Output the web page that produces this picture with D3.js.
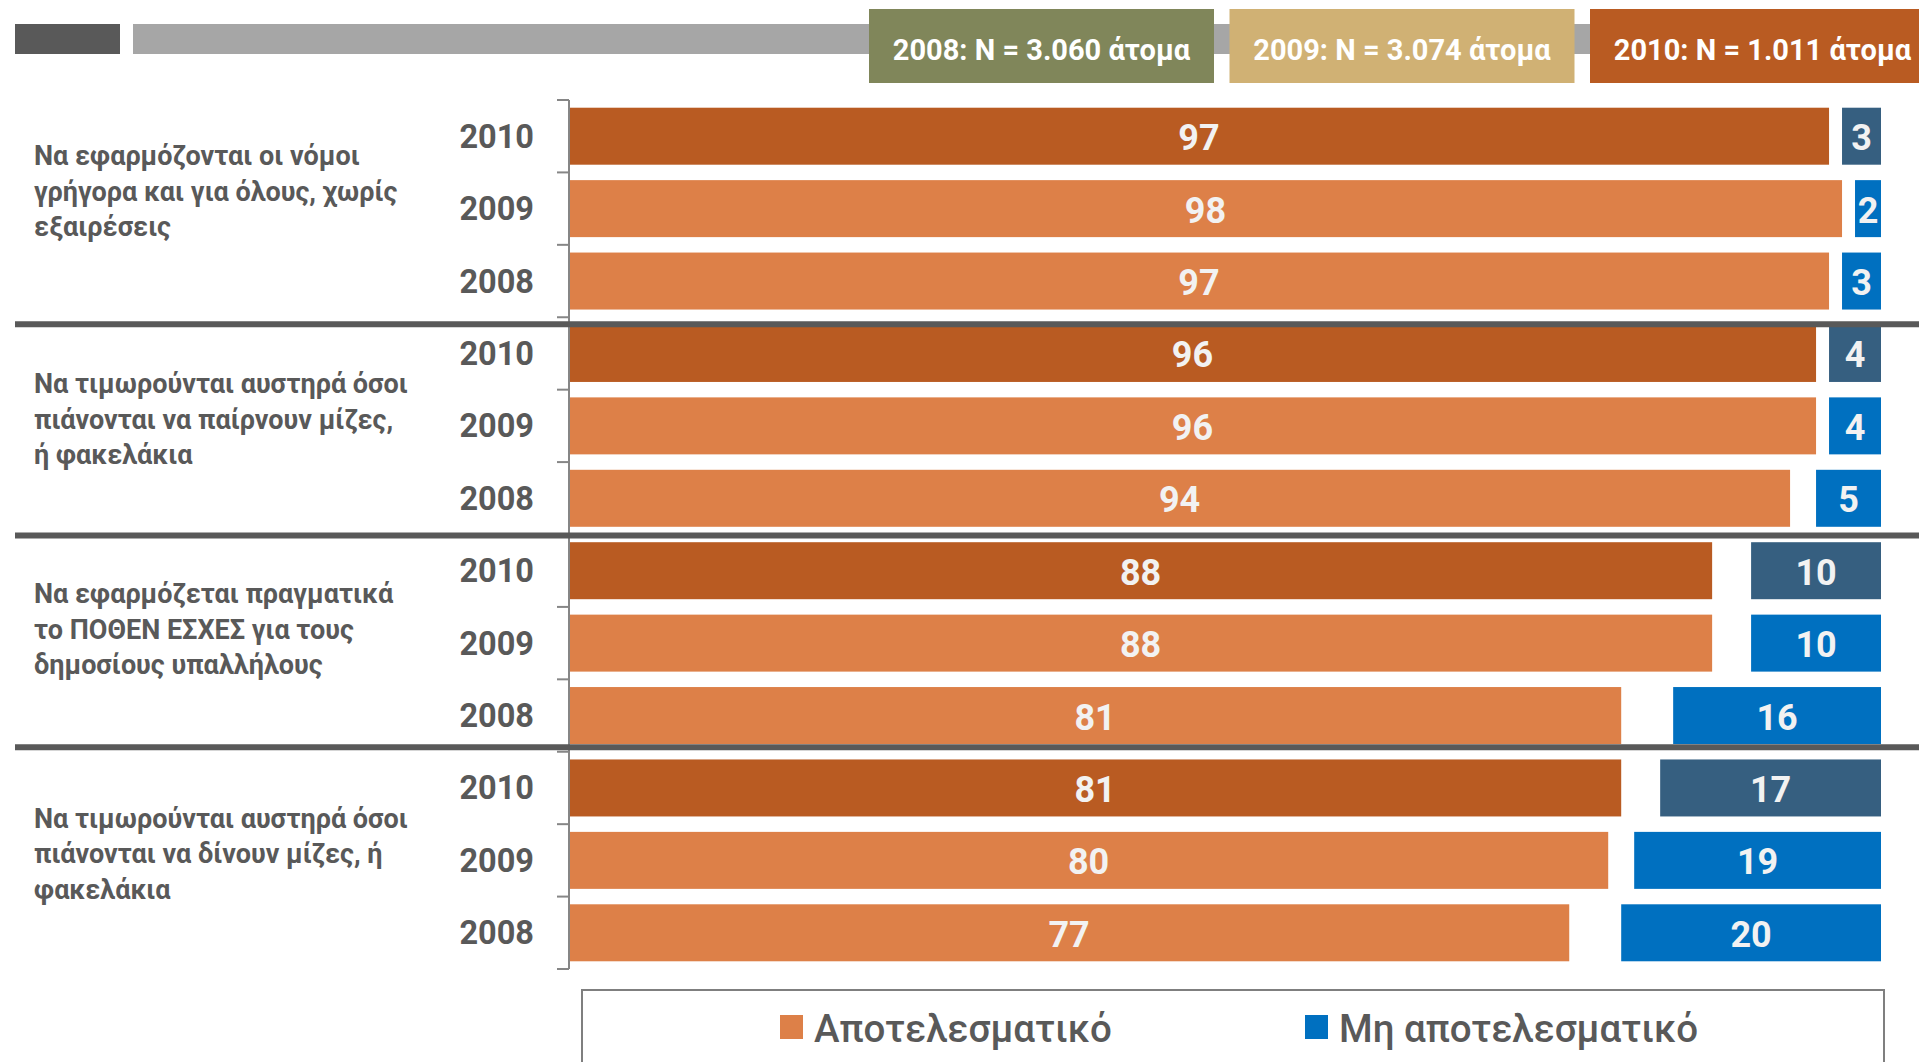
<!DOCTYPE html>
<html>
<head>
<meta charset="utf-8">
<script src="https://cdnjs.cloudflare.com/ajax/libs/d3/7.8.5/d3.min.js"></script>
<style>
  html, body { margin: 0; padding: 0; background: #ffffff; overflow: hidden; }
  svg { display: block; font-family: Roboto, "Noto Sans", "DejaVu Sans", sans-serif; }
</style>
</head>
<body>
<svg id="chart" width="1919" height="1062"></svg>
<script>
// ---------- DATA ----------
const categories = [
  ["Να εφαρμόζονται οι νόμοι", "γρήγορα και για όλους, χωρίς", "εξαιρέσεις"],
  ["Να τιμωρούνται αυστηρά όσοι", "πιάνονται να παίρνουν μίζες,", "ή φακελάκια"],
  ["Να εφαρμόζεται πραγματικά", "το ΠΟΘΕΝ ΕΣΧΕΣ για τους", "δημοσίους υπαλλήλους"],
  ["Να τιμωρούνται αυστηρά όσοι", "πιάνονται να δίνουν μίζες, ή", "φακελάκια"]
];
const years = ["2010", "2009", "2008"];
const effective = [
  [97, 98, 97],
  [96, 96, 94],
  [88, 88, 81],
  [81, 80, 77]
];
const notEffective = [
  [3, 2, 3],
  [4, 4, 5],
  [10, 10, 16],
  [17, 19, 20]
];
const sampleLabels = ["2008: N = 3.060 άτομα", "2009: N = 3.074 άτομα", "2010: N = 1.011 άτομα"];
const legendLabels = ["Αποτελεσματικό", "Μη αποτελεσματικό"];

// ---------- STYLE / LAYOUT ----------
const col = {
  eff2010: "#B95B22", eff: "#DD8048",
  not2010: "#365F80", not: "#0070C0",
  text: "#595959", axis: "#868686", sep: "#595959",
  headerDark: "#595959", headerLight: "#A6A6A6",
  boxes: ["#80865A", "#D0B174", "#B95B22"],
  label: "#F2F2F2"
};
const svg = d3.select("#chart");

const rows = [];
categories.forEach((c, gi) => years.forEach((yr, yi) => rows.push({
  key: gi + "-" + yr, gi, yi, year: yr,
  eff: effective[gi][yi], not: notEffective[gi][yi]
})));

const axisX = 569, rightEnd = 1881;
const plotTop = 100, plotBottom = 969;
const pad = 0.213;
const x = d3.scaleLinear().domain([0, 101]).range([axisX, rightEnd]);
const y = d3.scaleBand().domain(rows.map(d => d.key)).range([plotTop, plotBottom])
  .paddingInner(pad).paddingOuter(pad / 2);
const step = y.step();

// ---------- HEADER ----------
svg.append("rect").attr("x", 15).attr("y", 24).attr("width", 105).attr("height", 30).attr("fill", col.headerDark);
svg.append("rect").attr("x", 133).attr("y", 24).attr("width", 1919 - 133).attr("height", 30).attr("fill", col.headerLight);
const boxX = d3.scaleLinear().domain([0, 1]).range([869, 1229.5]);
const hb = svg.append("g").selectAll("g").data(sampleLabels).join("g")
  .attr("transform", (d, i) => `translate(${boxX(i)},9)`);
hb.append("rect").attr("width", 345).attr("height", 74).attr("fill", (d, i) => col.boxes[i]);
hb.append("text").attr("x", 172.5).attr("y", 41).attr("text-anchor", "middle")
  .attr("dominant-baseline", "central")
  .attr("fill", "#ffffff").attr("font-weight", 700).attr("font-size", 29)
  .text(d => d);

// ---------- AXIS ----------
const axisG = svg.append("g");
axisG.append("line").attr("x1", axisX).attr("x2", axisX).attr("y1", plotTop).attr("y2", plotBottom)
  .attr("stroke", col.axis).attr("stroke-width", 2);
const boundaries = rows.map(d => y(d.key) - step * pad / 2).concat([plotBottom]);
axisG.selectAll("line.tick").data(boundaries).join("line").attr("class", "tick")
  .attr("x1", axisX - 12).attr("x2", axisX).attr("y1", d => d).attr("y2", d => d)
  .attr("stroke", col.axis).attr("stroke-width", 2);

// ---------- BARS ----------
const bars = svg.append("g");
bars.selectAll("rect.eff").data(rows).join("rect").attr("class", "eff")
  .attr("x", x(0) + 1).attr("y", d => y(d.key))
  .attr("width", d => x(d.eff) - x(0) - 1).attr("height", y.bandwidth())
  .attr("fill", d => d.year === "2010" ? col.eff2010 : col.eff);
bars.selectAll("rect.not").data(rows).join("rect").attr("class", "not")
  .attr("x", d => x(101 - d.not)).attr("y", d => y(d.key))
  .attr("width", d => x(101) - x(101 - d.not)).attr("height", y.bandwidth())
  .attr("fill", d => d.year === "2010" ? col.not2010 : col.not);

const lbl = svg.append("g").attr("fill", col.label).attr("font-weight", 700)
  .attr("font-size", 36).attr("text-anchor", "middle").attr("dominant-baseline", "central");
lbl.selectAll("text.eff").data(rows).join("text").attr("class", "eff")
  .attr("x", d => (x(0) + x(d.eff)) / 2).attr("y", d => y(d.key) + y.bandwidth() / 2 + 2)
  .text(d => d.eff);
lbl.selectAll("text.not").data(rows).join("text").attr("class", "not")
  .attr("x", d => (x(101 - d.not) + x(101)) / 2).attr("y", d => y(d.key) + y.bandwidth() / 2 + 2)
  .text(d => d.not);

// year labels
svg.append("g").selectAll("text").data(rows).join("text")
  .attr("x", 534).attr("y", d => y(d.key) + y.bandwidth() / 2 + 0.5)
  .attr("text-anchor", "end").attr("dominant-baseline", "central")
  .attr("fill", col.text).attr("font-weight", 700).attr("font-size", 32.5)
  .text(d => d.year);

// separators
const sepOffsets = [7, 1, -4.5];
svg.append("g").selectAll("rect").data([1, 2, 3]).join("rect")
  .attr("x", 15).attr("width", 1919 - 15).attr("height", 6)
  .attr("y", (g, i) => boundaries[g * 3] + sepOffsets[i] - 3)
  .attr("fill", col.sep);

// category labels
const lineH = 35.5;
const catOffsets = [-17, -6, -13.5, -6];
const cat = svg.append("g").attr("fill", col.text).attr("font-weight", 700).attr("font-size", 27);
categories.forEach((lines, gi) => {
  const cy = (boundaries[gi * 3] + boundaries[gi * 3 + 3]) / 2 + catOffsets[gi];
  cat.append("text").selectAll("tspan").data(lines).join("tspan")
    .attr("x", 34).attr("y", (d, i) => cy + (i - (lines.length - 1) / 2) * lineH)
    .attr("dominant-baseline", "central")
    .text(d => d);
});

// ---------- LEGEND ----------
const lg = svg.append("g");
lg.append("rect").attr("x", 582).attr("y", 990).attr("width", 1302).attr("height", 100)
  .attr("fill", "none").attr("stroke", "#7F7F7F").attr("stroke-width", 2);
const legX = [780, 1305];
const legColors = [col.eff, col.not];
const li = lg.selectAll("g.li").data(legendLabels).join("g").attr("class", "li")
  .attr("transform", (d, i) => `translate(${legX[i]},1015)`);
li.append("rect").attr("width", 23).attr("height", 24).attr("fill", (d, i) => legColors[i]);
li.append("text").attr("x", 34).attr("y", 13).attr("dominant-baseline", "central")
  .attr("fill", col.text).attr("font-weight", 500).attr("font-size", 38.5).text(d => d);
</script>
</body>
</html>
